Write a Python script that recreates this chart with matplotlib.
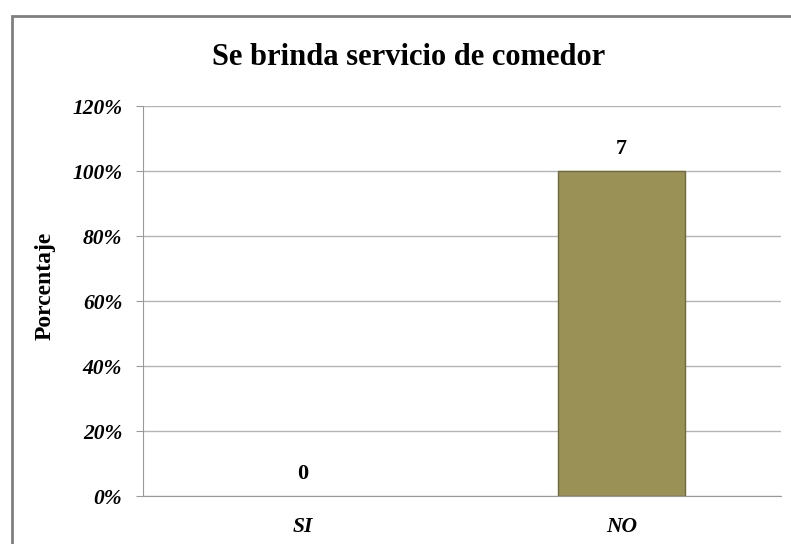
import matplotlib.pyplot as plt
from matplotlib.patches import Rectangle

categorias = ['SI', 'NO']
cantidades = [0, 7]
porcentajes = [0, 100]
ticks_y = [0, 20, 40, 60, 80, 100, 120]

plt.rcParams['font.family'] = ['Liberation Serif', 'DejaVu Serif']

fig = plt.figure(figsize=(7.91, 5.44), dpi=100)
ax = fig.add_axes([0.1808, 0.0882, 0.8066, 0.7169])

# marco exterior del grafico
fig.patches.append(Rectangle((12/791, -0.1), 1.2, 1.1 - 16/544, transform=fig.transFigure,
                             fill=False, edgecolor='#7f7f7f', linewidth=2.0))

x = range(len(categorias))
bordes = ['none' if p == 0 else '#6f6a3c' for p in porcentajes]
barras = ax.bar(x, porcentajes, width=0.4, color='#9a9157', edgecolor=bordes, linewidth=1.0, zorder=3)

for xi, p, c in zip(x, porcentajes, cantidades):
    ax.annotate(str(c), (xi, p), xytext=(0, 8.5), textcoords='offset points',
                ha='center', va='bottom', fontsize=16, fontweight='bold')

ax.set_xlim(-0.5, 1.5)
ax.set_ylim(0, 120)
ax.set_yticks(ticks_y)
ax.set_yticklabels([f'{t}%' for t in ticks_y], fontsize=15.5, fontweight='bold', style='italic')
ax.set_xticks(list(x))
ax.set_xticklabels(categorias, fontsize=15.5, fontweight='bold', style='italic')
ax.tick_params(axis='x', length=0, pad=15)
ax.tick_params(axis='y', length=5, color='#9a9a9a', pad=10)

ax.grid(axis='y', color='#b4b4b4', linewidth=1.0, zorder=0)
for s in ['top', 'right']:
    ax.spines[s].set_visible(False)
ax.spines['left'].set_color('#9a9a9a')
ax.spines['bottom'].set_color('#9a9a9a')

fig.text(45/791, 1 - 286/544, 'Porcentaje', rotation=90, ha='center', va='center',
         fontsize=17, fontweight='bold')
fig.text(0.516, 0.895, 'Se brinda servicio de comedor', ha='center', va='center',
         fontsize=22, fontweight='bold')

fig.savefig('out.png', dpi=100)
